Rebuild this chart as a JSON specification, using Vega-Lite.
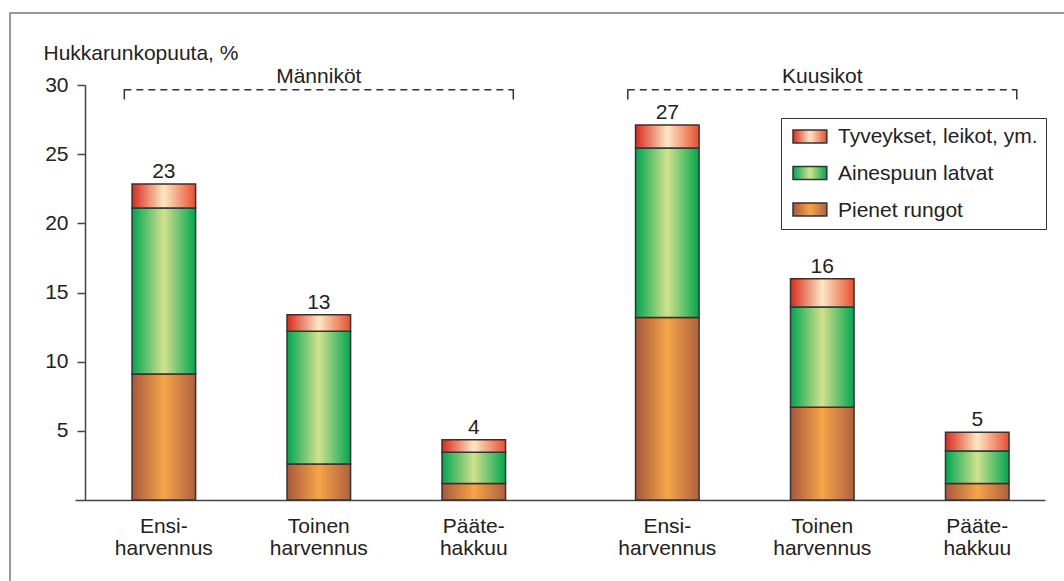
{
  "$schema": "https://vega.github.io/schema/vega-lite/v6.json",
  "autosize": "none",
  "padding": {"left": 10, "top": 13, "right": 0, "bottom": 0},
  "width": 1054,
  "height": 568,
  "background": "white",
  "config": {
    "font": "Liberation Sans",
    "view": {"stroke": "#777", "strokeWidth": 1.5, "strokeDash": [1054, 1622, 568, 2]},
    "text": {"font": "Liberation Sans", "fontSize": 21, "color": "#222"}
  },
  "resolve": {"scale": {"shape": "independent"}, "legend": {"shape": "independent"}},
  "datasets": {
    "bars": [
      {"group": "Männiköt", "stage": "Ensi-\nharvennus", "component": "Pienet rungot", "ord": 1, "value": 9.1},
      {"group": "Männiköt", "stage": "Ensi-\nharvennus", "component": "Ainespuun latvat", "ord": 2, "value": 12.0},
      {"group": "Männiköt", "stage": "Ensi-\nharvennus", "component": "Tyveykset, leikot, ym.", "ord": 3, "value": 1.75},
      {"group": "Männiköt", "stage": "Toinen\nharvennus", "component": "Pienet rungot", "ord": 1, "value": 2.6},
      {"group": "Männiköt", "stage": "Toinen\nharvennus", "component": "Ainespuun latvat", "ord": 2, "value": 9.6},
      {"group": "Männiköt", "stage": "Toinen\nharvennus", "component": "Tyveykset, leikot, ym.", "ord": 3, "value": 1.2},
      {"group": "Männiköt", "stage": "Pääte-\nhakkuu", "component": "Pienet rungot", "ord": 1, "value": 1.2},
      {"group": "Männiköt", "stage": "Pääte-\nhakkuu", "component": "Ainespuun latvat", "ord": 2, "value": 2.25},
      {"group": "Männiköt", "stage": "Pääte-\nhakkuu", "component": "Tyveykset, leikot, ym.", "ord": 3, "value": 0.9},
      {"group": "Kuusikot", "stage": "Ensi-\nharvennus", "component": "Pienet rungot", "ord": 1, "value": 13.2},
      {"group": "Kuusikot", "stage": "Ensi-\nharvennus", "component": "Ainespuun latvat", "ord": 2, "value": 12.25},
      {"group": "Kuusikot", "stage": "Ensi-\nharvennus", "component": "Tyveykset, leikot, ym.", "ord": 3, "value": 1.65},
      {"group": "Kuusikot", "stage": "Toinen\nharvennus", "component": "Pienet rungot", "ord": 1, "value": 6.7},
      {"group": "Kuusikot", "stage": "Toinen\nharvennus", "component": "Ainespuun latvat", "ord": 2, "value": 7.25},
      {"group": "Kuusikot", "stage": "Toinen\nharvennus", "component": "Tyveykset, leikot, ym.", "ord": 3, "value": 2.05},
      {"group": "Kuusikot", "stage": "Pääte-\nhakkuu", "component": "Pienet rungot", "ord": 1, "value": 1.2},
      {"group": "Kuusikot", "stage": "Pääte-\nhakkuu", "component": "Ainespuun latvat", "ord": 2, "value": 2.35},
      {"group": "Kuusikot", "stage": "Pääte-\nhakkuu", "component": "Tyveykset, leikot, ym.", "ord": 3, "value": 1.35}
    ],
    "groups": [
      {"group": "Männiköt"},
      {"group": "Kuusikot"}
    ]
  },
  "data": {"name": "bars"},
  "layer": [
    {
      "transform": [
        {"stack": "value", "groupby": ["group", "stage"], "sort": [{"field": "ord", "order": "ascending"}], "as": ["v0", "v1"]}
      ],
      "mark": {"type": "bar", "stroke": "#333", "strokeWidth": 1.5},
      "encoding": {
        "x": {"field": "group", "type": "nominal",
          "scale": {"domain": ["Männiköt", "Kuusikot"], "range": [65, 1035], "paddingInner": 0.2274, "paddingOuter": 0.077, "align": 0.636},
          "axis": {"orient": "bottom", "offset": -81, "labels": false, "ticks": false, "title": null, "grid": false, "domainColor": "#444", "domainWidth": 1.5}},
        "xOffset": {"field": "stage", "type": "nominal",
          "scale": {"domain": ["Ensi-\nharvennus", "Toinen\nharvennus", "Pääte-\nhakkuu"], "paddingInner": 0.59, "paddingOuter": 0.05}},
        "y": {"field": "v0", "type": "quantitative",
          "scale": {"domain": [0, 30], "range": [487, 72], "nice": false, "zero": true},
          "axis": {"orient": "left", "offset": -75, "values": [5, 10, 15, 20, 25, 30], "grid": false,
            "domainColor": "#444", "domainWidth": 1.5, "tickColor": "#444", "tickWidth": 1.5, "tickSize": 8,
            "labelFontSize": 21, "labelColor": "#222", "labelPadding": 9, "labelFont": "Liberation Sans",
            "title": "Hukkarunkopuuta, %", "titleAngle": 0, "titleX": -42, "titleY": 46, "titleAlign": "left",
            "titleBaseline": "alphabetic", "titleFontSize": 21, "titleFontWeight": "normal", "titleColor": "#222", "titleFont": "Liberation Sans"}},
        "y2": {"field": "v1"},
        "fill": {
          "condition": [
            {"test": "datum.component === 'Tyveykset, leikot, ym.'", "value": {"gradient": "linear", "x1": 0, "y1": 0, "x2": 1, "y2": 0, "stops": [{"offset": 0, "color": "#d92a1c"}, {"offset": 0.5, "color": "#fde8c4"}, {"offset": 1, "color": "#e84e30"}]}},
            {"test": "datum.component === 'Ainespuun latvat'", "value": {"gradient": "linear", "x1": 0, "y1": 0, "x2": 1, "y2": 0, "stops": [{"offset": 0, "color": "#00a650"}, {"offset": 0.5, "color": "#d3e18e"}, {"offset": 1, "color": "#00a650"}]}}
          ],
          "value": {"gradient": "linear", "x1": 0, "y1": 0, "x2": 1, "y2": 0, "stops": [{"offset": 0, "color": "#a8583a"}, {"offset": 0.5, "color": "#f5a548"}, {"offset": 1, "color": "#b0603e"}]}
        }
      }
    },
    {
      "mark": {"type": "point", "filled": true, "opacity": 0, "fill": "transparent", "stroke": "transparent"},
      "encoding": {
        "x": {"field": "group", "type": "nominal",
          "scale": {"domain": ["Männiköt", "Kuusikot"], "range": [65, 1035], "paddingInner": 0.2274, "paddingOuter": 0.077, "align": 0.636}},
        "y": {"datum": 0, "type": "quantitative", "scale": {"domain": [0, 30], "range": [487, 72], "nice": false, "zero": true}},
        "shape": {"field": "component", "type": "nominal",
          "scale": {"domain": ["Tyveykset, leikot, ym.", "Ainespuun latvat", "Pienet rungot"],
            "range": ["M-1,-1H4.2V1H-1Z", "M-1,-1H4.2V1H-1Z", "M-1,-1H4.2V1H-1Z"]},
          "legend": {"orient": "none", "legendX": 771, "legendY": 105, "title": null, "padding": 8,
            "strokeColor": "#333", "symbolSize": 169, "symbolOpacity": 1, "symbolFillColor": "transparent", "symbolStrokeColor": "transparent",
            "labelFontSize": 21, "labelColor": "#222", "labelFont": "Liberation Sans", "labelOffset": 28, "rowPadding": 15, "labelLimit": 400}}
      }
    },
    {
      "transform": [{"filter": "datum.component === 'Tyveykset, leikot, ym.'"}],
      "mark": {"type": "point", "filled": true, "opacity": 0, "stroke": "#333", "strokeWidth": 1.5,
        "fill": {"gradient": "linear", "x1": 0, "y1": 0, "x2": 1, "y2": 0, "stops": [{"offset": 0, "color": "#d92a1c"}, {"offset": 0.5, "color": "#fde8c4"}, {"offset": 1, "color": "#e84e30"}]}},
      "encoding": {
        "x": {"field": "group", "type": "nominal",
          "scale": {"domain": ["Männiköt", "Kuusikot"], "range": [65, 1035], "paddingInner": 0.2274, "paddingOuter": 0.077, "align": 0.636}},
        "y": {"datum": 0, "type": "quantitative", "scale": {"domain": [0, 30], "range": [487, 72], "nice": false, "zero": true}},
        "shape": {"field": "component", "type": "nominal",
          "scale": {"domain": ["Tyveykset, leikot, ym."], "range": ["M-1,-1H4.2V1H-1Z"]},
          "legend": {"orient": "none", "legendX": 771, "legendY": 105, "title": null, "padding": 8,
            "symbolSize": 169, "symbolOpacity": 1, "symbolStrokeWidth": 1.5,
            "labelFontSize": 21, "labelColor": "transparent", "labelFont": "Liberation Sans", "labelOffset": 28, "labelLimit": 400}}
      }
    },
    {
      "transform": [{"filter": "datum.component === 'Ainespuun latvat'"}],
      "mark": {"type": "point", "filled": true, "opacity": 0, "stroke": "#333", "strokeWidth": 1.5,
        "fill": {"gradient": "linear", "x1": 0, "y1": 0, "x2": 1, "y2": 0, "stops": [{"offset": 0, "color": "#00a650"}, {"offset": 0.5, "color": "#d3e18e"}, {"offset": 1, "color": "#00a650"}]}},
      "encoding": {
        "x": {"field": "group", "type": "nominal",
          "scale": {"domain": ["Männiköt", "Kuusikot"], "range": [65, 1035], "paddingInner": 0.2274, "paddingOuter": 0.077, "align": 0.636}},
        "y": {"datum": 0, "type": "quantitative", "scale": {"domain": [0, 30], "range": [487, 72], "nice": false, "zero": true}},
        "shape": {"field": "component", "type": "nominal",
          "scale": {"domain": ["Ainespuun latvat"], "range": ["M-1,-1H4.2V1H-1Z"]},
          "legend": {"orient": "none", "legendX": 771, "legendY": 141.5, "title": null, "padding": 8,
            "symbolSize": 169, "symbolOpacity": 1, "symbolStrokeWidth": 1.5,
            "labelFontSize": 21, "labelColor": "transparent", "labelFont": "Liberation Sans", "labelOffset": 28, "labelLimit": 400}}
      }
    },
    {
      "transform": [{"filter": "datum.component === 'Pienet rungot'"}],
      "mark": {"type": "point", "filled": true, "opacity": 0, "stroke": "#333", "strokeWidth": 1.5,
        "fill": {"gradient": "linear", "x1": 0, "y1": 0, "x2": 1, "y2": 0, "stops": [{"offset": 0, "color": "#a8583a"}, {"offset": 0.5, "color": "#f5a548"}, {"offset": 1, "color": "#b0603e"}]}},
      "encoding": {
        "x": {"field": "group", "type": "nominal",
          "scale": {"domain": ["Männiköt", "Kuusikot"], "range": [65, 1035], "paddingInner": 0.2274, "paddingOuter": 0.077, "align": 0.636}},
        "y": {"datum": 0, "type": "quantitative", "scale": {"domain": [0, 30], "range": [487, 72], "nice": false, "zero": true}},
        "shape": {"field": "component", "type": "nominal",
          "scale": {"domain": ["Pienet rungot"], "range": ["M-1,-1H4.2V1H-1Z"]},
          "legend": {"orient": "none", "legendX": 771, "legendY": 178, "title": null, "padding": 8,
            "symbolSize": 169, "symbolOpacity": 1, "symbolStrokeWidth": 1.5,
            "labelFontSize": 21, "labelColor": "transparent", "labelFont": "Liberation Sans", "labelOffset": 28, "labelLimit": 400}}
      }
    },
    {
      "transform": [
        {"aggregate": [{"op": "sum", "field": "value", "as": "total"}], "groupby": ["group", "stage"]}
      ],
      "mark": {"type": "text", "baseline": "alphabetic", "dy": -6, "fontSize": 21, "color": "#222"},
      "encoding": {
        "x": {"field": "group", "type": "nominal",
          "scale": {"domain": ["Männiköt", "Kuusikot"], "range": [65, 1035], "paddingInner": 0.2274, "paddingOuter": 0.077, "align": 0.636}},
        "xOffset": {"field": "stage", "type": "nominal",
          "scale": {"domain": ["Ensi-\nharvennus", "Toinen\nharvennus", "Pääte-\nhakkuu"], "paddingInner": 0.59, "paddingOuter": 0.05}},
        "y": {"field": "total", "type": "quantitative", "scale": {"domain": [0, 30], "range": [487, 72], "nice": false, "zero": true}},
        "text": {"field": "total", "type": "quantitative", "format": ".0f"}
      }
    },
    {
      "transform": [
        {"aggregate": [{"op": "sum", "field": "value", "as": "total"}], "groupby": ["group", "stage"]}
      ],
      "mark": {"type": "text", "baseline": "top", "dy": 16, "lineBreak": "\n", "lineHeight": 22, "fontSize": 21, "color": "#222"},
      "encoding": {
        "x": {"field": "group", "type": "nominal",
          "scale": {"domain": ["Männiköt", "Kuusikot"], "range": [65, 1035], "paddingInner": 0.2274, "paddingOuter": 0.077, "align": 0.636}},
        "xOffset": {"field": "stage", "type": "nominal",
          "scale": {"domain": ["Ensi-\nharvennus", "Toinen\nharvennus", "Pääte-\nhakkuu"], "paddingInner": 0.59, "paddingOuter": 0.05}},
        "y": {"datum": 0, "type": "quantitative", "scale": {"domain": [0, 30], "range": [487, 72], "nice": false, "zero": true}},
        "text": {"field": "stage", "type": "nominal"}
      }
    },
    {
      "data": {"name": "groups"},
      "mark": {"type": "text", "baseline": "alphabetic", "fontSize": 21, "color": "#222"},
      "encoding": {
        "x": {"field": "group", "type": "nominal",
          "scale": {"domain": ["Männiköt", "Kuusikot"], "range": [65, 1035], "paddingInner": 0.2274, "paddingOuter": 0.077, "align": 0.636}},
        "y": {"datum": 30.15, "type": "quantitative", "scale": {"domain": [0, 30], "range": [487, 72], "nice": false, "zero": true}},
        "text": {"field": "group", "type": "nominal"}
      }
    },
    {
      "data": {"name": "groups"},
      "mark": {"type": "rule", "stroke": "#333", "strokeWidth": 1.5, "strokeDash": [7, 5]},
      "encoding": {
        "x": {"field": "group", "type": "nominal", "bandPosition": 0,
          "scale": {"domain": ["Männiköt", "Kuusikot"], "range": [65, 1035], "paddingInner": 0.2274, "paddingOuter": 0.077, "align": 0.636}},
        "x2": {"field": "group", "bandPosition": 1},
        "y": {"datum": 29.65, "type": "quantitative", "scale": {"domain": [0, 30], "range": [487, 72], "nice": false, "zero": true}}
      }
    },
    {
      "data": {"name": "groups"},
      "mark": {"type": "rule", "stroke": "#333", "strokeWidth": 1.5},
      "encoding": {
        "x": {"field": "group", "type": "nominal", "bandPosition": 0,
          "scale": {"domain": ["Männiköt", "Kuusikot"], "range": [65, 1035], "paddingInner": 0.2274, "paddingOuter": 0.077, "align": 0.636}},
        "y": {"datum": 29.7, "type": "quantitative", "scale": {"domain": [0, 30], "range": [487, 72], "nice": false, "zero": true}},
        "y2": {"datum": 28.95}
      }
    },
    {
      "data": {"name": "groups"},
      "mark": {"type": "rule", "stroke": "#333", "strokeWidth": 1.5},
      "encoding": {
        "x": {"field": "group", "type": "nominal", "bandPosition": 1,
          "scale": {"domain": ["Männiköt", "Kuusikot"], "range": [65, 1035], "paddingInner": 0.2274, "paddingOuter": 0.077, "align": 0.636}},
        "y": {"datum": 29.7, "type": "quantitative", "scale": {"domain": [0, 30], "range": [487, 72], "nice": false, "zero": true}},
        "y2": {"datum": 28.95}
      }
    }
  ]
}
